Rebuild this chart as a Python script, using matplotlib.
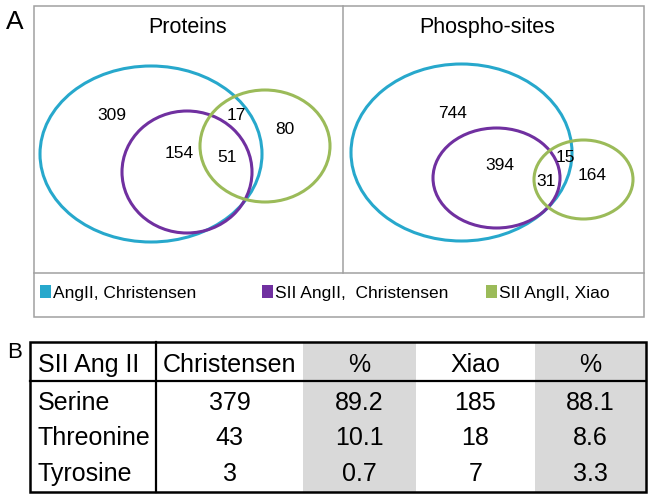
import matplotlib.pyplot as plt
from matplotlib.patches import Ellipse, Rectangle

# Venn counts (regions: AngII only, AngII+SII Christensen, all three, AngII+Xiao, Xiao only)
venn_titles = ['Proteins', 'Phospho-sites']
protein_counts = [309, 154, 51, 17, 80]
phospho_counts = [744, 394, 31, 15, 164]
set_labels = ['AngII, Christensen', 'SII AngII,  Christensen', 'SII AngII, Xiao']
set_colors = ['#27a8cc', '#7030a0', '#9bbb59']

# Table B
table_header = ['SII Ang II', 'Christensen', '%', 'Xiao', '%']
residues = ['Serine', 'Threonine', 'Tyrosine']
christensen_n = [379, 43, 3]
christensen_pct = [89.2, 10.1, 0.7]
xiao_n = [185, 18, 7]
xiao_pct = [88.1, 8.6, 3.3]

FONT = ['Liberation Sans', 'DejaVu Sans']

fig = plt.figure(figsize=(6.55, 4.99), dpi=100)
ax = fig.add_axes([0, 0, 1, 1])
ax.set_xlim(0, 655)
ax.set_ylim(499, 0)
ax.axis('off')

# ---- panel A frame
grey = '#a0a0a0'
ax.add_patch(Rectangle((34, 6), 610, 311, fill=False, ec=grey, lw=1.1))
ax.plot([34, 644], [273, 273], color=grey, lw=1.1)
ax.plot([343, 343], [6, 273], color=grey, lw=1.1)
ax.text(15, 29, 'A', fontsize=19, ha='center', va='baseline', family=FONT)

# ellipse layouts (center x, center y, width, height) per set
layouts = [
    [(151, 154, 222, 176), (187, 172, 130, 122), (265, 146, 130, 112)],
    [(461.5, 152.5, 221, 177), (496.5, 178, 127, 100), (583.5, 179.5, 99, 79)],
]
label_pos = [
    [(112, 115), (179, 154), (227, 158), (236, 115), (285, 130)],
    [(453, 113), (500, 165), (546, 182), (565, 157), (592, 175)],
]
title_x = [188, 487]

for k, counts in enumerate([protein_counts, phospho_counts]):
    for (cx, cy, w, h), col in zip(layouts[k], set_colors):
        ax.add_patch(Ellipse((cx, cy), w, h, fill=False, ec=col, lw=2.2))
    for (x, y), n in zip(label_pos[k], counts):
        ax.text(x, y, str(n), fontsize=12.5, ha='center', va='center', family=FONT)
    ax.text(title_x[k], 33, venn_titles[k], fontsize=15.5, ha='center',
            va='baseline', family=FONT)

# legend row
leg_x = [40, 262, 486]
for x, col, lab in zip(leg_x, set_colors, set_labels):
    ax.add_patch(Rectangle((x, 285), 11, 13, color=col, lw=0))
    ax.text(x + 13, 298, lab, fontsize=12.5, ha='left', va='baseline', family=FONT)

# ---- panel B table
ax.text(15, 358, 'B', fontsize=16, ha='center', va='baseline', family=FONT)
col_edges = [30, 156, 303, 416, 535, 646]
top, head_bot, bot = 342, 381, 492
for i in (2, 4):
    ax.add_patch(Rectangle((col_edges[i], top), col_edges[i + 1] - col_edges[i],
                           bot - top, color='#d9d9d9', lw=0))
ax.add_patch(Rectangle((col_edges[0], top), col_edges[-1] - col_edges[0], bot - top,
                       fill=False, ec='black', lw=1.8))
ax.plot([col_edges[0], col_edges[-1]], [head_bot, head_bot], color='black', lw=1.6)
ax.plot([col_edges[1], col_edges[1]], [top, bot], color='black', lw=1.6)

centers = [(col_edges[i] + col_edges[i + 1]) / 2 for i in range(5)]
ax.text(38, 372, table_header[0], fontsize=18, ha='left', va='baseline', family=FONT)
for i in range(1, 5):
    ax.text(centers[i], 372, table_header[i], fontsize=18, ha='center',
            va='baseline', family=FONT)

row_base = [410, 445, 481]
for r, name in enumerate(residues):
    y = row_base[r]
    ax.text(38, y, name, fontsize=18, ha='left', va='baseline', family=FONT)
    vals = [str(christensen_n[r]), f'{christensen_pct[r]:.1f}',
            str(xiao_n[r]), f'{xiao_pct[r]:.1f}']
    for i, v in enumerate(vals):
        ax.text(centers[i + 1], y, v, fontsize=18, ha='center', va='baseline',
                family=FONT)

fig.savefig('out.png', dpi=100)
